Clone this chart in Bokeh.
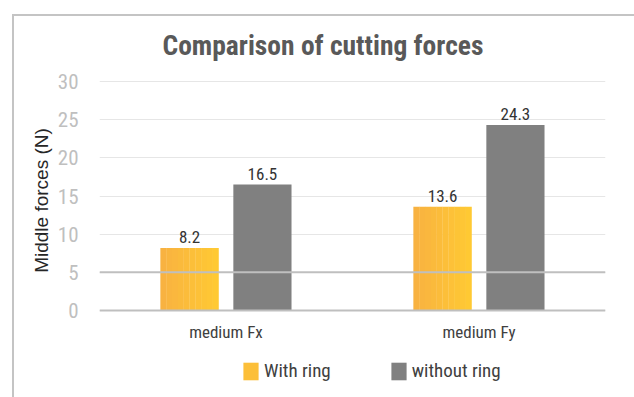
from bokeh.plotting import figure
from bokeh.models import (ColumnDataSource, FactorRange, Range1d, Legend, LegendItem,
                          Span, FixedTicker, Label)
from bokeh.transform import dodge
from bokeh.core.properties import value
from bokeh.embed import file_html
from bokeh.resources import INLINE

# data
categories = ["medium Fx", "medium Fy"]
with_ring = [8.2, 13.6]
without_ring = [16.5, 24.3]
y_ticks = [0, 5, 10, 15, 20, 25, 30]
chart_title = "Comparison of cutting forces"

COND = "'Roboto Condensed', 'DejaVu Sans Condensed', 'Liberation Sans Narrow', Roboto"
GREY = "#808080"
BOX = "#C4C4C4"
# horizontal gradient of the "With ring" bars (left -> right)
GRAD_LEFT = (248, 178, 65)
GRAD_RIGHT = (255, 201, 51)
N_STRIPS = 10

# value axis runs 0..30; the frame continues below zero (category labels,
# legend) and above 30 (title) so the axis label sits centred on the chart
Y_MAX = 30
PX_PER_UNIT = 229 / Y_MAX
BELOW_ZERO_PX = 85
ABOVE_MAX_PX = 76
y_min = -BELOW_ZERO_PX / PX_PER_UNIT
y_top = Y_MAX + ABOVE_MAX_PX / PX_PER_UNIT
FRAME_H = 229 + BELOW_ZERO_PX + ABOVE_MAX_PX

src = ColumnDataSource(dict(
    cat=categories,
    with_ring=with_ring,
    without_ring=without_ring,
    with_lbl=[f"{v:g}" for v in with_ring],
    without_lbl=[f"{v:g}" for v in without_ring],
))

p = figure(frame_width=506, frame_height=FRAME_H,
           x_range=FactorRange(*categories, range_padding=0),
           y_range=Range1d(y_min, y_top), output_backend="svg", toolbar_location=None,
           min_border_left=99, min_border_right=29, min_border_top=0,
           min_border_bottom=2)
# chart-area box: thin grey rule along the top and left edges
p.styles = {
    "margin-top": "5px",
    "background-image": f"linear-gradient({BOX},{BOX}), linear-gradient({BOX},{BOX})",
    "background-size": "2px 100%, 100% 2px",
    "background-position": "12px 9px, 12px 9px",
    "background-repeat": "no-repeat",
}
p.outline_line_color = None
p.background_fill_color = None
p.border_fill_color = None

# title, placed in screen pixels from the frame's bottom-left corner
p.add_layout(Label(x=63, y=FRAME_H - 40, x_units="screen", y_units="screen",
                   text=chart_title, text_align="left", text_baseline="middle",
                   text_font=COND, text_font_size="27.5px", text_font_style="bold",
                   text_color="#595959"))

bw = 0.23
off = 0.144

# "With ring" bars drawn as thin vertical strips to get the colour gradient
strip_w = bw / N_STRIPS
with_renderers = []
for i in range(N_STRIPS):
    t = i / (N_STRIPS - 1)
    rgb = tuple(round(a + (b - a) * t) for a, b in zip(GRAD_LEFT, GRAD_RIGHT))
    color = "#%02x%02x%02x" % rgb
    x_off = -off - bw / 2 + strip_w * (i + 0.5)
    r = p.vbar(x=dodge("cat", x_off, range=p.x_range), top="with_ring",
               width=strip_w * 1.04, source=src, fill_color=color, line_color=None)
    with_renderers.append(r)

r2 = p.vbar(x=dodge("cat", off, range=p.x_range), top="without_ring", width=bw,
            source=src, fill_color=GREY, line_color=None)

p.text(x=dodge("cat", -off, range=p.x_range), y="with_ring", text="with_lbl", source=src,
       text_align="center", text_baseline="bottom", y_offset=-5,
       text_font=value(COND), text_font_size="17px", text_color="#333333")
p.text(x=dodge("cat", off, range=p.x_range), y="without_ring", text="without_lbl", source=src,
       text_align="center", text_baseline="bottom", y_offset=-5,
       text_font=value(COND), text_font_size="17px", text_color="#333333")

# grid
p.xgrid.grid_line_color = None
p.ygrid.grid_line_color = "#E6E6E6"
p.ygrid.grid_line_width = 1
p.add_layout(Span(location=5, dimension="width", line_color="#BFBFBF", line_width=2))

# y axis
p.yaxis.ticker = FixedTicker(ticks=y_ticks)
p.yaxis.bounds = (0, Y_MAX)
p.yaxis.axis_line_color = None
p.yaxis.major_tick_line_color = None
p.yaxis.minor_tick_line_color = None
p.yaxis.major_label_text_font = COND
p.yaxis.major_label_text_font_size = "21px"
p.yaxis.major_label_text_color = "#BFBFBF"
p.yaxis.major_label_standoff = 15
p.yaxis.axis_label = "Middle forces (N)"
p.yaxis.axis_label_text_font = "Liberation Sans"
p.yaxis.axis_label_text_font_style = "normal"
p.yaxis.axis_label_text_font_size = "19px"
p.yaxis.axis_label_text_color = "#262626"
p.yaxis.axis_label_standoff = 3

# x axis sits on the zero line
p.xaxis.fixed_location = 0
p.xaxis.axis_line_color = "#BFBFBF"
p.xaxis.axis_line_width = 2
p.xaxis.major_tick_line_color = None
p.xaxis.minor_tick_line_color = None
p.xaxis.major_label_text_font = COND
p.xaxis.major_label_text_font_size = "17px"
p.xaxis.major_label_text_color = "#404040"
p.xaxis.major_label_standoff = 5

legend = Legend(items=[LegendItem(label="With ring", renderers=[with_renderers[N_STRIPS // 2]]),
                       LegendItem(label="without ring", renderers=[r2])],
                location=(142, 13), orientation="horizontal",
                glyph_width=19, glyph_height=22, label_standoff=4, spacing=58,
                padding=0, margin=0, border_line_color=None,
                background_fill_alpha=0,
                label_text_font=COND, label_text_font_size="19px",
                label_text_color="#404040")
p.add_layout(legend, "center")

open("out.html", "w").write(file_html(p, INLINE))
